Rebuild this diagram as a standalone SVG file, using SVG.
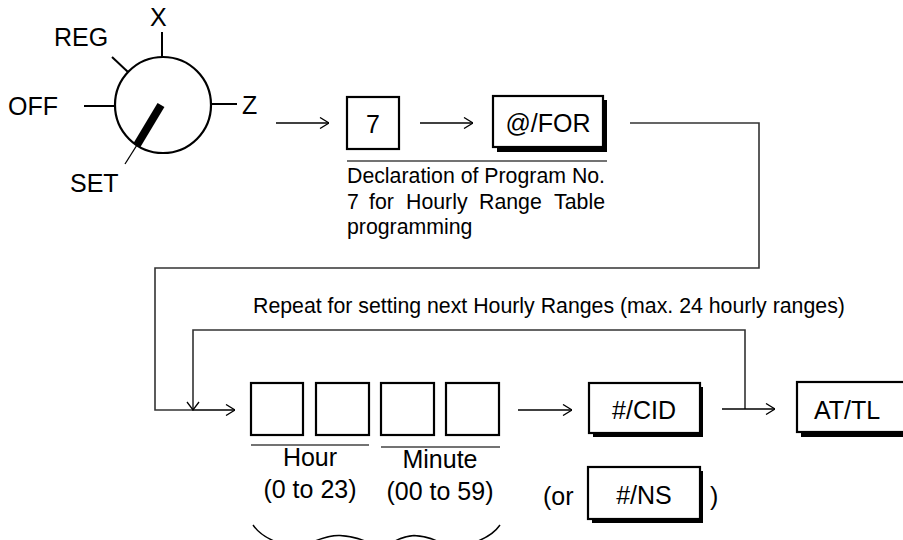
<svg xmlns="http://www.w3.org/2000/svg" width="903" height="540" viewBox="0 0 903 540">
<defs>
<style>
.t{font-family:"Liberation Sans",Arial,sans-serif;fill:#000}
.big{font-size:25px}
.sm{font-size:21.3px}
.ln{fill:none;stroke:#000;stroke-width:1.4}
.gl{fill:none;stroke:#333;stroke-width:1.6}
.box{fill:#fff;stroke:#000;stroke-width:2.2}
.sh{fill:#000}
</style>
<marker id="ah" viewBox="0 0 10 12" refX="10" refY="6" markerWidth="10" markerHeight="12" markerUnits="userSpaceOnUse" orient="auto">
<path d="M1,0.5 L10,6 L1,11.5" fill="none" stroke="#000" stroke-width="1.3"/>
</marker>
</defs>
<rect width="903" height="540" fill="#fff"/>

<g id="dial">
<circle cx="163" cy="105" r="48" fill="none" stroke="#000" stroke-width="2.2"/>
<line x1="84" y1="106" x2="115" y2="106" stroke="#000" stroke-width="2"/>
<line x1="211" y1="104" x2="237" y2="104" stroke="#000" stroke-width="2"/>
<line x1="162" y1="32" x2="162" y2="57" stroke="#000" stroke-width="2"/>
<line x1="112" y1="57" x2="128" y2="72" stroke="#000" stroke-width="2"/>
<line x1="161" y1="105" x2="137" y2="145" stroke="#000" stroke-width="8"/>
<line x1="137" y1="145" x2="125" y2="164" stroke="#000" stroke-width="1.3"/>
<text class="t big" x="8" y="115">OFF</text>
<text class="t big" x="54" y="46">REG</text>
<text class="t big" x="150" y="26">X</text>
<text class="t big" x="242" y="114">Z</text>
<text class="t big" x="70" y="192">SET</text>
</g>

<g id="key7">
<rect class="box" x="347" y="97" width="52" height="52"/>
<text class="t big" x="373" y="133" text-anchor="middle">7</text>
</g>

<g id="keyFOR">
<rect class="sh" x="497" y="100" width="110" height="52"/>
<rect class="box" x="493" y="96" width="110" height="51"/>
<text class="t big" x="548" y="132" text-anchor="middle">@/FOR</text>
</g>

<g id="declaration">
<line x1="347" y1="161" x2="607" y2="161" stroke="#444" stroke-width="1.4"/>
<text class="t sm" x="347" y="183">Declaration of Program No.</text>
<text class="t sm" y="209"><tspan x="347">7</tspan><tspan x="369">for</tspan><tspan x="406">Hourly</tspan><tspan x="479">Range</tspan><tspan x="605" text-anchor="end">Table</tspan></text>
<text class="t sm" x="347" y="234">programming</text>
</g>

<g id="digits">
<rect class="box" x="251" y="383" width="52" height="52"/>
<rect class="box" x="316" y="383" width="53" height="52"/>
<rect class="box" x="381" y="383" width="53" height="52"/>
<rect class="box" x="446" y="383" width="53" height="52"/>
<line x1="251" y1="445" x2="369" y2="445" stroke="#444" stroke-width="1.4"/>
<line x1="381" y1="447" x2="500" y2="447" stroke="#444" stroke-width="1.4"/>
<text class="t big" x="310" y="466" text-anchor="middle">Hour</text>
<text class="t big" x="440" y="468" text-anchor="middle">Minute</text>
<text class="t big" x="310" y="498" text-anchor="middle">(0 to 23)</text>
<text class="t big" x="440" y="500" text-anchor="middle">(00 to 59)</text>
<path class="ln" d="M253,525 Q260,535 274,541"/>
<path class="ln" d="M500,525 Q493,535 478,541"/>
<path class="ln" d="M315,541 Q330,535 340,535.5 Q352,536 365,541"/>
<path class="ln" d="M395,541 Q405,536 414,535.5 Q426,536 437,541"/>
</g>

<g id="keyCID">
<rect class="sh" x="593" y="387" width="110" height="50"/>
<rect class="box" x="589" y="383" width="111" height="50"/>
<text class="t big" x="644" y="419" text-anchor="middle">#/CID</text>
</g>

<g id="keyNS">
<text class="t big" x="543" y="505">(or</text>
<rect class="sh" x="592" y="471" width="111" height="52"/>
<rect class="box" x="588" y="467" width="112" height="52"/>
<text class="t big" x="644" y="504" text-anchor="middle">#/NS</text>
<text class="t big" x="710" y="505">)</text>
</g>

<g id="keyATTL">
<rect class="sh" x="801" y="386" width="110" height="51"/>
<rect class="box" x="797" y="382" width="114" height="50"/>
<text class="t big" x="814" y="419">AT/TL</text>
</g>

<g id="repeatLabel">
<text class="t sm" x="253" y="313">Repeat for setting next Hourly Ranges (max. 24 hourly ranges)</text>
</g>

<g id="connectors">
<line class="ln" x1="276" y1="123" x2="329" y2="123" marker-end="url(#ah)"/>
<line class="ln" x1="420" y1="123" x2="473" y2="123" marker-end="url(#ah)"/>
<polyline class="gl" points="630,123 759,123 759,268 155,268 155,410 192,410"/>
<line class="ln" x1="192" y1="410" x2="235" y2="410" marker-end="url(#ah)"/>
<polyline class="gl" points="745,409 745,330 193,330 193,409"/>
<path d="M187,402 L193,410 L199,402" fill="none" stroke="#000" stroke-width="1.3"/>
<line class="ln" x1="518" y1="410" x2="572" y2="410" marker-end="url(#ah)"/>
<line class="ln" x1="722" y1="409" x2="775" y2="409" marker-end="url(#ah)"/>
</g>
</svg>
